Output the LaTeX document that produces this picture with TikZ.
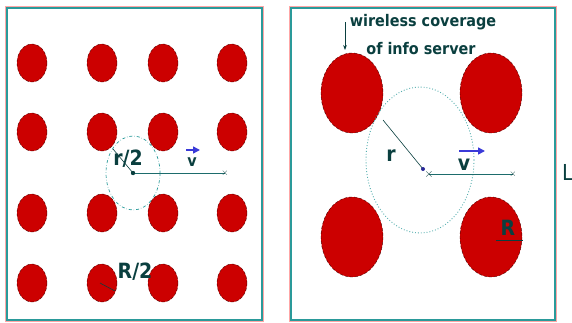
\documentclass[tikz,border=0pt]{standalone}
\usepackage{fontspec}
\setmainfont{DejaVu Sans Condensed}
\usetikzlibrary{arrows.meta}
\definecolor{dotred}{HTML}{CC0000}
\definecolor{frameteal}{HTML}{2A9A9A}
\definecolor{inkteal}{HTML}{0A3F3F}
\definecolor{vblue}{HTML}{3A3AD8}
\tikzset{
  cell/.style={fill=dotred, draw=black!70!red, densely dashed, line width=0.4pt},
  panel/.style={draw=frameteal, line width=1.2pt},
  shadow/.style={draw=red!35, line width=0.8pt},
  lbl/.style={text=inkteal, font=\bfseries\fontsize{16}{16}\selectfont, inner sep=0pt},
  biglbl/.style={lbl, font=\bfseries\fontsize{21}{21}\selectfont},
  track/.style={draw=frameteal!70!black, line width=0.8pt}
}
\begin{document}
\begin{tikzpicture}[x=1pt, y=-1pt]
  \useasboundingbox (0,0) rectangle (572,322);

  %cornici
  \draw[shadow] (5,6) rectangle (263,321);
  \draw[panel] (7,8) rectangle (262,320);
  \draw[shadow] (289,6) rectangle (556,321);
  \draw[panel] (291,8) rectangle (555,320);

  %griglia fitta
  \foreach \x in {32,102,163,232}
    \foreach \y in {63,132,213,283}
      \path[cell] (\x,\y) ellipse [x radius=15, y radius=19];

  %griglia larga
  \foreach \x in {352,491}
    \foreach \y in {93,237}
      \path[cell] (\x,\y) ellipse [x radius=31, y radius=40];

  %copertura client
  \draw[frameteal, dash dot, line width=0.7pt] (133,173) ellipse [x radius=27, y radius=37];
  \draw[frameteal!80, dotted, line width=0.9pt] (420,160) ellipse [x radius=54, y radius=73];

  %pannello sinistro
  \coordinate (cl) at (133,173);
  \coordinate (el) at (225,173);
  \coordinate (rl) at (113,149);
  \draw[track] (cl)--(el) node[inkteal, font=\small]{$\times$};
  \draw[inkteal, line width=0.6pt] (rl)--(cl);
  \fill[inkteal] (cl) circle (2.2);
  \node[biglbl] (rhalf) at (128,159) {r/2};
  \node[lbl] (vl) at (192,162) {v};
  \draw[vblue, line width=1.5pt, -{Triangle[length=7pt, width=7pt]}] (186,150)--(200,150);
  \node[biglbl] (Rhalf) at (135,272) {R/2};
  \draw[inkteal, line width=0.6pt] (100,283)--(115,291);

  %pannello destro
  \coordinate (cr) at (429,174);
  \coordinate (er) at (513,174);
  \coordinate (rr) at (383,120);
  \draw[track] (cr)--(er) node[inkteal, font=\small]{$\times$};
  \draw[inkteal, line width=0.6pt] (rr)--(423,169);
  \fill[vblue!70!black] (423,169) circle (2);
  \node[inkteal, font=\large] (xr) at (cr) {$\times$};
  \node[biglbl] (rlab) at (391,156) {r};
  \node[biglbl] (vr) at (464,165) {v};
  \draw[vblue, line width=1.5pt, -{Triangle[length=7pt, width=7pt]}] (459,151)--(485,151);
  \node[biglbl] (Rlab) at (508,228) {R};
  \draw[inkteal, line width=0.8pt] (496,240)--(523,240);

  %etichetta server
  \node[lbl] (cov1) at (423,22) {wireless coverage};
  \node[lbl] (cov2) at (421,49) {of info server};
  \coordinate (arrtop) at (345,22);
  \draw[inkteal, line width=0.8pt, -{Stealth[length=5pt]}] (arrtop)--(345,50);

  %lato
  \node[lbl, font=\fontsize{22}{22}\selectfont, anchor=west] (Llab) at (562,172) {L};
\end{tikzpicture}
\end{document}
